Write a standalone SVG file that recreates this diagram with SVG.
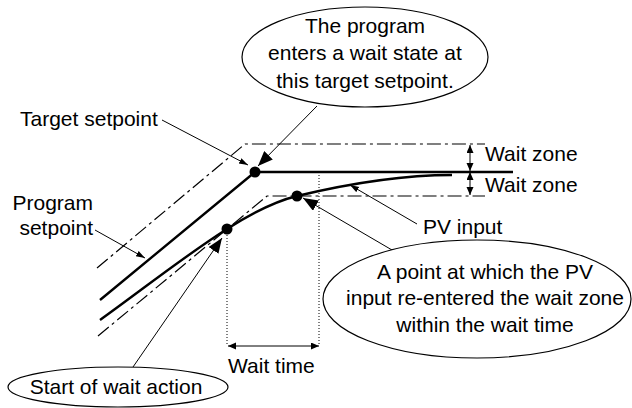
<svg xmlns="http://www.w3.org/2000/svg" width="632" height="408" viewBox="0 0 632 408">
<defs>
<style>
text{font-family:"Liberation Sans",Arial,sans-serif;font-size:21px;fill:#000}
.thin{stroke:#000;stroke-width:1;fill:none}
.bold{stroke:#000;stroke-width:2.4;fill:none}
.dd{stroke:#000;stroke-width:1.2;fill:none;stroke-dasharray:14 4 3 4}
.dot{stroke:#000;stroke-width:1;fill:none;stroke-dasharray:1 2}
.bub{stroke:#000;stroke-width:1.2;fill:#fff}
</style>
<marker id="big" markerUnits="userSpaceOnUse" markerWidth="16" markerHeight="12" refX="15" refY="6" orient="auto"><path d="M0,0 L15,6 L0,12 z" fill="#000"/></marker>
<marker id="sm" markerUnits="userSpaceOnUse" markerWidth="10" markerHeight="8" refX="9" refY="3" orient="auto"><path d="M0,0 L9,3 L0,6 z" fill="#000"/></marker>
<marker id="dim" markerUnits="userSpaceOnUse" markerWidth="9" markerHeight="8" refX="8" refY="3.5" orient="auto-start-reverse"><path d="M0,0 L8,3.5 L0,7 z" fill="#000"/></marker>
</defs>

<g id="zones">
<path class="dd" d="M97,268 L245,144 L485,144"/>
<path class="dd" d="M98,336 L267,196 L485,196"/>
<path class="dot" d="M227,229 V346 M319,172 V346"/>
</g>

<g id="program-setpoint-line">
<path class="bold" d="M100,300 L255,172 L513,172"/>
</g>

<g id="pv-curve">
<path class="bold" d="M100,320 C142,290 183,257 227,229 C249,215 272,202 297,196 C347,184 400,175 452,175"/>
</g>

<g id="points">
<circle cx="255" cy="172" r="5.5" fill="#000"/>
<circle cx="227" cy="229" r="5.5" fill="#000"/>
<circle cx="297" cy="196" r="5.5" fill="#000"/>
</g>

<g id="connectors">
<line class="thin" x1="162" y1="120" x2="248" y2="165" marker-end="url(#sm)"/>
<line class="thin" x1="95" y1="230" x2="145" y2="258" marker-end="url(#sm)"/>
<line class="thin" x1="417" y1="224" x2="350" y2="185" marker-end="url(#sm)"/>
<line class="thin" x1="317" y1="106" x2="258" y2="166" marker-end="url(#big)"/>
<line class="thin" x1="392" y1="250" x2="303" y2="198" marker-end="url(#big)"/>
<line class="thin" x1="133" y1="367" x2="222" y2="238" marker-end="url(#big)"/>
<line class="thin" x1="470" y1="145" x2="470" y2="171" marker-start="url(#dim)" marker-end="url(#dim)"/>
<line class="thin" x1="470" y1="172" x2="470" y2="195" marker-start="url(#dim)" marker-end="url(#dim)"/>
<line class="thin" x1="228" y1="346" x2="319" y2="346" marker-start="url(#dim)" marker-end="url(#dim)"/>
</g>

<g id="target-setpoint-label"><text x="20" y="126">Target setpoint</text></g>
<g id="program-setpoint-label"><text x="93" y="210" text-anchor="end">Program</text><text x="93" y="235" text-anchor="end">setpoint</text></g>
<g id="wait-zone-labels"><text x="485" y="161">Wait zone</text><text x="485" y="192">Wait zone</text></g>
<g id="pv-input-label"><text x="423" y="234">PV input</text></g>
<g id="wait-time-label"><text x="228" y="373">Wait time</text></g>

<g id="callout-wait-state">
<ellipse class="bub" cx="365" cy="57" rx="123" ry="50"/>
<text x="365" y="33" text-anchor="middle">The program</text>
<text x="365" y="60" text-anchor="middle">enters a wait state at</text>
<text x="365" y="88" text-anchor="middle">this target setpoint.</text>
</g>

<g id="callout-reentry">
<ellipse class="bub" cx="477" cy="299" rx="154" ry="59"/>
<text x="485" y="279" text-anchor="middle">A point at which the PV</text>
<text x="485" y="305" text-anchor="middle">input re-entered the wait zone</text>
<text x="485" y="332" text-anchor="middle">within the wait time</text>
</g>

<g id="callout-start">
<ellipse class="bub" cx="118" cy="387" rx="110" ry="20"/>
<text x="116" y="394" text-anchor="middle">Start of wait action</text>
</g>
</svg>
